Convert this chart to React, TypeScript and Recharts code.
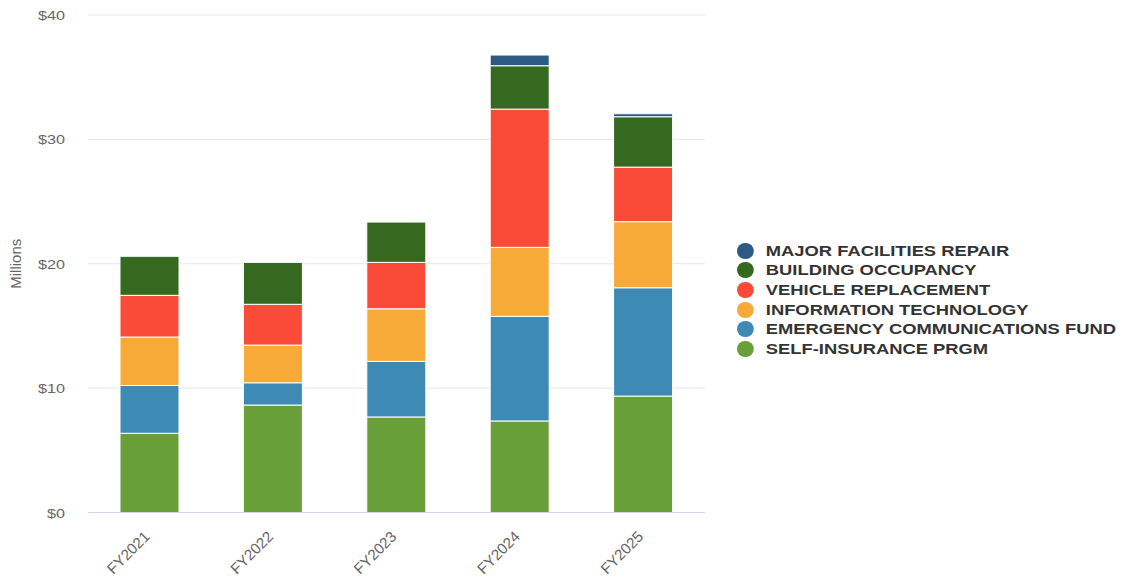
import React from 'react';
import { BarChart, Bar, XAxis, YAxis, CartesianGrid } from 'recharts';

const years = ['FY2021', 'FY2022', 'FY2023', 'FY2024', 'FY2025'];

// millions of dollars
const selfInsurance = [6.37, 8.64, 7.68, 7.36, 9.36];
const emergencyComm = [3.84, 1.79, 4.47, 8.41, 8.71];
const infoTech = [3.9, 3.03, 4.23, 5.55, 5.31];
const vehicleReplacement = [3.35, 3.28, 3.73, 11.11, 4.39];
const buildingOccupancy = [3.14, 3.37, 3.24, 3.49, 4.05];
const majorFacilities = [0, 0, 0, 0.86, 0.24];

const yTicks = [0, 10, 20, 30, 40];

const series = [
    { key: 'si', name: 'SELF-INSURANCE PRGM', color: '#689f38', values: selfInsurance },
    { key: 'ecf', name: 'EMERGENCY COMMUNICATIONS FUND', color: '#3d8ab5', values: emergencyComm },
    { key: 'it', name: 'INFORMATION TECHNOLOGY', color: '#f7aa38', values: infoTech },
    { key: 'vr', name: 'VEHICLE REPLACEMENT', color: '#f94b37', values: vehicleReplacement },
    { key: 'bo', name: 'BUILDING OCCUPANCY', color: '#356920', values: buildingOccupancy },
    { key: 'mfr', name: 'MAJOR FACILITIES REPAIR', color: '#2c5a84', values: majorFacilities },
];

const data = years.map((year, i) => {
    const row: any = { year };
    series.forEach((s) => {
        row[s.key] = s.values[i];
    });
    return row;
});

const font = '"Liberation Sans", Arial, Helvetica, sans-serif';

// the source picture is a bit wider than tall, text looks stretched sideways
const stretch = 1.2;

function XTick(props: any) {
    const { x, y, payload } = props;
    const tx = x + 1;
    const ty = y + 17;
    return (
        <text
            transform={`translate(${tx}, ${ty}) rotate(-45) scale(1.08, 1.08)`}
            textAnchor="end"
            fill="#666"
            fontSize={14}
            fontFamily={font}
        >
            {payload.value}
        </text>
    );
}

function YTick(props: any) {
    const { y, payload } = props;
    return (
        <text
            transform={`translate(65, ${y + 5}) scale(${stretch}, 1)`}
            textAnchor="end"
            fill="#666"
            fontSize={13.5}
            fontFamily={font}
        >
            {`$${payload.value}`}
        </text>
    );
}

function ChartLegend() {
    const items = [...series].reverse();
    return (
        <div
            style={{
                position: 'absolute',
                left: 737,
                top: 241,
                fontFamily: font,
                transform: `scaleX(${stretch})`,
                transformOrigin: 'left top',
            }}
        >
            {items.map((s) => (
                <div key={s.key} style={{ display: 'flex', alignItems: 'center', height: 19.6, whiteSpace: 'nowrap' }}>
                    <span
                        style={{
                            display: 'inline-block',
                            width: 13.5,
                            height: 16,
                            borderRadius: '50%',
                            background: s.color,
                            marginRight: 10.5,
                        }}
                    />
                    <span style={{ fontSize: 15.3, fontWeight: 'bold', color: '#333' }}>{s.name}</span>
                </div>
            ))}
        </div>
    );
}

export default function App() {
    return (
        <div style={{ position: 'absolute', left: 0, top: 0, width: 1123, height: 580, background: '#fff' }}>
            <BarChart
                width={1123}
                height={580}
                data={data}
                margin={{ top: 15, right: 418, bottom: 0, left: 0 }}
            >
                <CartesianGrid vertical={false} stroke="#e6e6e6" />
                <XAxis
                    dataKey="year"
                    axisLine={{ stroke: '#ccd6eb' }}
                    tickLine={false}
                    tick={<XTick />}
                    interval={0}
                    height={67.5}
                />
                <YAxis
                    width={88}
                    domain={[0, 40]}
                    ticks={yTicks}
                    axisLine={false}
                    tickLine={false}
                    tick={<YTick />}
                    label={{
                        value: 'Millions',
                        angle: -90,
                        position: 'insideLeft',
                        offset: 16,
                        style: { fill: '#666', fontSize: 15, fontFamily: font, textAnchor: 'middle' },
                    }}
                />
                {series.map((s) => (
                    <Bar
                        key={s.key}
                        dataKey={s.key}
                        name={s.name}
                        stackId="a"
                        fill={s.color}
                        stroke="#fff"
                        strokeWidth={1}
                        barSize={59}
                        isAnimationActive={false}
                    />
                ))}
            </BarChart>
            <ChartLegend />
        </div>
    );
}
